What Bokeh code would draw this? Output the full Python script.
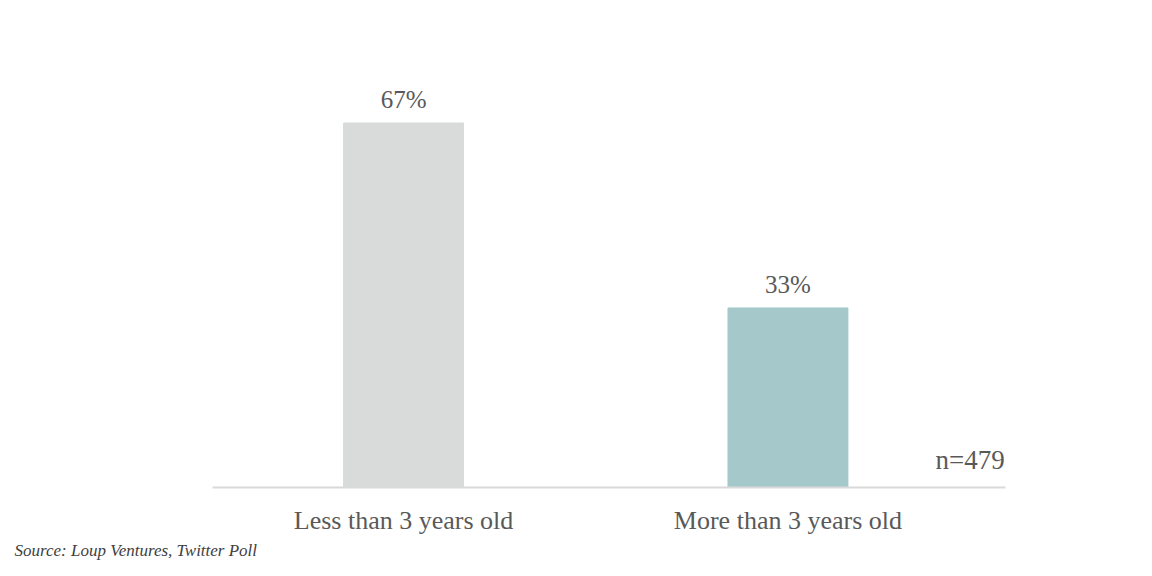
from bokeh.plotting import figure
from bokeh.models import ColumnDataSource, FixedTicker, Label, Range1d, Title
from bokeh.embed import file_html
from bokeh.resources import INLINE
from bokeh.core.properties import value

categories = ["Less than 3 years old", "More than 3 years old"]
shares = [67, 33]
share_labels = ["67%", "33%"]
colors = ["#d9dbda", "#a5c8ca"]
sample_note = "n=479"
source_note = "Source: Loup Ventures, Twitter Poll"

xpos = list(range(len(categories)))
src = ColumnDataSource(dict(x=xpos, y=shares, lab=share_labels, color=colors))

FONT = "Liberation Serif"
TXT = "#595959"

p = figure(width=1136, height=560, output_backend="svg", toolbar_location=None,
           x_range=Range1d(-0.497, 1.566), y_range=Range1d(0, 84),
           min_border_left=212, min_border_right=131, min_border_top=30,
           min_border_bottom=71)
p.outline_line_color = None
p.grid.visible = False
p.yaxis.visible = False

p.vbar(x="x", top="y", width=0.312, color="color", source=src)
p.text(x="x", y="y", text="lab", source=src, text_align="center",
       text_baseline="bottom", y_offset=-10, text_font=value(FONT),
       text_font_size="25px", text_color=TXT)

ax = p.xaxis[0]
ax.ticker = FixedTicker(ticks=xpos)
ax.major_label_overrides = {i: c for i, c in zip(xpos, categories)}
ax.major_tick_line_color = None
ax.minor_tick_line_color = None
ax.axis_line_color = "#d9d9d9"
ax.axis_line_width = 2
ax.major_label_text_font = FONT
ax.major_label_text_font_size = "26px"
ax.major_label_text_color = TXT
ax.major_label_standoff = 12

p.add_layout(Label(x=1.384, y=2.3, text=sample_note, text_align="left",
                   text_baseline="bottom", text_font=FONT,
                   text_font_size="27px", text_color=TXT))
p.add_layout(Title(text=source_note, align="left", offset=-198,
                   text_font=FONT, text_font_style="italic",
                   text_font_size="17px", text_color="#404040",
                   standoff=2), "below")

open("out.html", "w").write(file_html(p, INLINE))
